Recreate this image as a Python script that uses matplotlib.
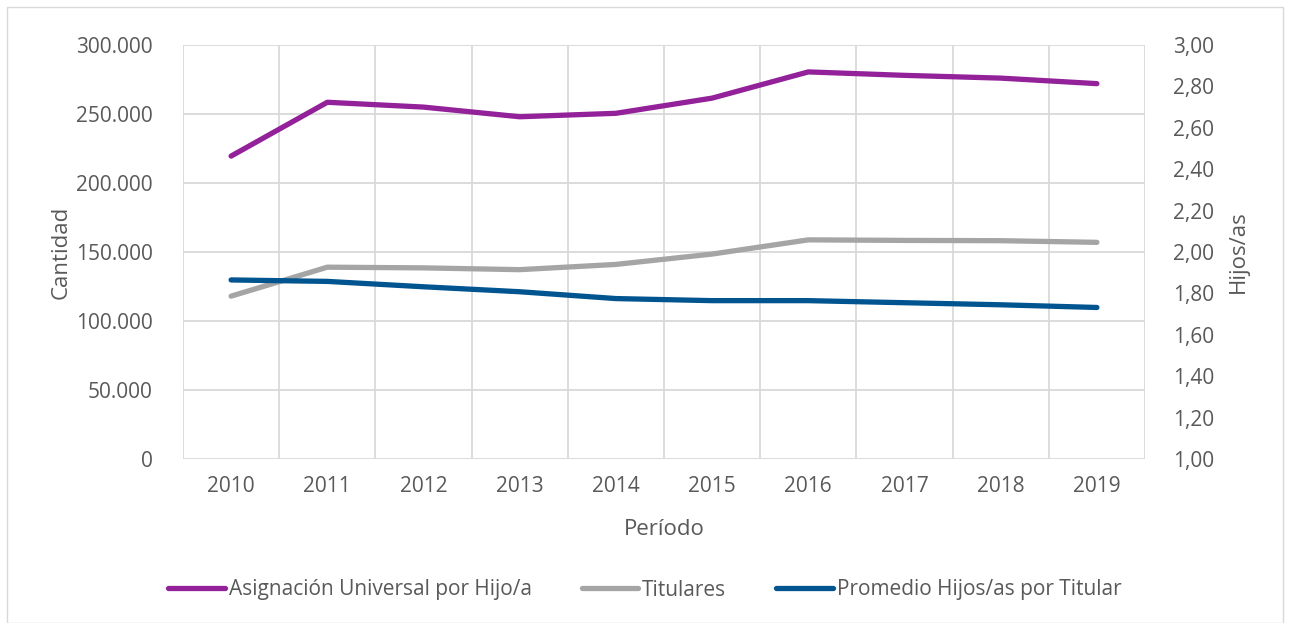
import matplotlib.pyplot as plt
from matplotlib.patches import Rectangle
from matplotlib.ticker import FuncFormatter

years = ['2010', '2011', '2012', '2013', '2014', '2015', '2016', '2017', '2018', '2019']
auh = [219500, 258500, 255000, 248000, 250500, 261500, 280500, 278000, 276000, 272000]
titulares = [118000, 139000, 138500, 137200, 141000, 148500, 158800, 158400, 158200, 157000]
promedio = [1.865, 1.858, 1.832, 1.808, 1.775, 1.765, 1.765, 1.755, 1.745, 1.732]

text_color = '#595959'
grid_color = '#d9d9d9'

plt.rcParams['font.family'] = ['Open Sans', 'DejaVu Sans']

fig = plt.figure(figsize=(12.9, 6.23), dpi=100)
fig.patches.append(Rectangle((7 / 1290, 0), 1276 / 1290, 616 / 623, transform=fig.transFigure,
                             fill=False, edgecolor=grid_color, linewidth=1))

ax = fig.add_axes([183 / 1290, 1 - 459 / 623, 962 / 1290, 414 / 623])
ax2 = ax.twinx()

x = list(range(len(years)))
l1, = ax.plot(x, auh, color='#93219a', linewidth=3.8, solid_capstyle='round',
              label='Asignación Universal por Hijo/a')
l2, = ax.plot(x, titulares, color='#a5a5a5', linewidth=3.8, solid_capstyle='round',
              label='Titulares')
l3, = ax2.plot(x, promedio, color='#00548f', linewidth=3.8, solid_capstyle='round',
               label='Promedio Hijos/as por Titular')

ax.set_xlim(-0.5, len(years) - 0.5)
ax.set_ylim(0, 300000)
ax.set_yticks(range(0, 300001, 50000))
ax.yaxis.set_major_formatter(FuncFormatter(lambda v, p: f'{int(v):,}'.replace(',', '.')))
ax2.set_ylim(1.0, 3.0)
ax2.set_yticks([1.0 + 0.2 * i for i in range(11)])
ax2.yaxis.set_major_formatter(FuncFormatter(lambda v, p: f'{v:.2f}'.replace('.', ',')))

ax.set_xticks(x)
ax.set_xticklabels(years)
ax.set_xticks([i - 0.5 for i in range(len(years) + 1)], minor=True)
ax.grid(True, which='minor', axis='x', color=grid_color, linewidth=1.3)
ax.grid(True, which='major', axis='y', color=grid_color, linewidth=1.3)
ax.set_axisbelow(True)

for a in (ax, ax2):
    for s in a.spines.values():
        s.set_visible(False)
    a.tick_params(length=0, labelsize=15, colors=text_color, which='both')
ax.tick_params(axis='y', pad=22)
ax2.tick_params(axis='y', pad=20)
ax.tick_params(axis='x', pad=12)

ax.set_xlabel('Período', fontsize=16, color=text_color, labelpad=16)
ax.set_ylabel('Cantidad', fontsize=16, color=text_color, labelpad=3)
ax2.set_ylabel('Hijos/as', fontsize=16, color=text_color, labelpad=10)

fig.legend(handles=[l1, l2, l3], loc='center', bbox_to_anchor=(0.5, 1 - 590 / 623),
           ncol=3, frameon=False, fontsize=15, labelcolor=text_color,
           handlelength=2.7, handletextpad=0.2, columnspacing=2.4)

fig.savefig('out.png', dpi=100)
